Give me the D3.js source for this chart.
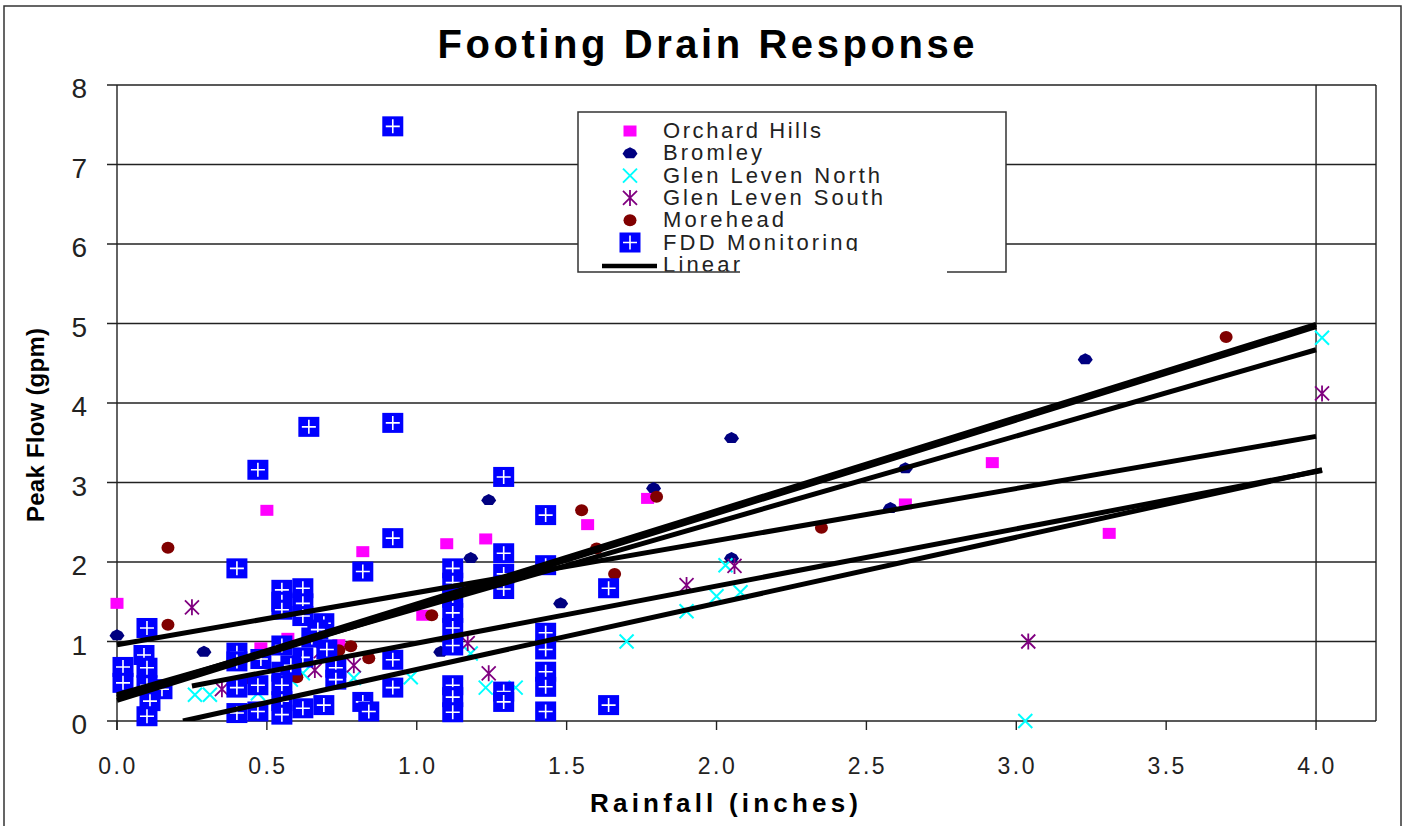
<!DOCTYPE html>
<html>
<head>
<meta charset="utf-8">
<script src="https://cdn.jsdelivr.net/npm/d3@7"></script>
<style>
body { margin: 0; background: #fff; }
svg { display: block; font-family: "Liberation Sans", Arial, sans-serif; }
</style>
</head>
<body>
<script>
// values (rainfall in inches, peak flow in gpm)
var orchardX = [0.00, 0.48, 0.50, 0.57, 0.71, 0.74, 0.82, 1.02, 1.10, 1.23, 1.57, 1.77, 2.63, 2.92, 3.31];
var orchardY = [1.48, 0.92, 2.65, 1.04, 0.89, 0.96, 2.13, 1.33, 2.23, 2.29, 2.47, 2.80, 2.73, 3.25, 2.36];

var bromleyX = [0.00, 0.29, 1.08, 1.18, 1.24, 1.48, 1.79, 2.05, 2.05, 2.58, 2.63, 3.23];
var bromleyY = [1.08, 0.87, 0.87, 2.05, 2.78, 1.48, 2.93, 3.56, 2.05, 2.68, 3.18, 4.55];

var glnX = [0.26, 0.31, 0.47, 0.58, 0.62, 0.79, 0.98, 1.18, 1.23, 1.33, 1.70, 1.90, 2.00, 2.03, 2.08, 3.03, 4.02];
var glnY = [0.33, 0.33, 0.35, 0.52, 0.60, 0.54, 0.55, 0.85, 0.42, 0.42, 1.00, 1.38, 1.57, 1.96, 1.62, 0.00, 4.82];

var glsX = [0.25, 0.35, 0.66, 0.68, 0.72, 0.79, 1.17, 1.24, 1.90, 2.06, 3.04, 4.02];
var glsY = [1.43, 0.40, 0.64, 0.88, 0.86, 0.70, 0.98, 0.60, 1.71, 1.95, 1.00, 4.12];

var moreheadX = [0.17, 0.17, 0.45, 0.60, 0.74, 0.78, 0.84, 1.05, 1.55, 1.60, 1.66, 1.80, 2.35, 3.70];
var moreheadY = [2.18, 1.21, 0.52, 0.55, 0.89, 0.94, 0.79, 1.33, 2.65, 2.17, 1.85, 2.82, 2.43, 4.83];

var fddX = [0.92, 0.64, 0.92, 0.47, 1.29, 1.43, 0.92, 1.29, 0.40, 0.82, 1.12, 1.12, 1.12, 1.12, 1.12, 1.12,
            1.12, 1.12, 1.12, 1.29, 1.29, 1.43, 1.64, 1.43, 1.43, 1.43, 1.43, 1.43, 1.29, 1.29, 1.64, 0.92,
            0.92, 0.82, 0.84, 0.62, 0.62, 0.69, 0.62, 0.73, 0.73, 0.69, 0.62, 0.55, 0.55, 0.55, 0.65, 0.55,
            0.55, 0.55, 0.55, 0.55, 0.10, 0.09, 0.10, 0.10, 0.11, 0.10, 0.02, 0.02, 0.40, 0.40, 0.40, 0.40,
            0.47, 0.47, 0.62, 0.67, 0.58, 0.15, 0.48, 0.70];
var fddY = [7.48, 3.70, 3.75, 3.16, 3.07, 2.59, 2.30, 2.11, 1.92, 1.88, 1.92, 1.74, 1.55, 1.36, 1.17, 0.95,
            0.45, 0.30, 0.11, 1.85, 1.66, 1.96, 1.67, 1.11, 0.90, 0.62, 0.43, 0.12, 0.37, 0.24, 0.20, 0.77,
            0.42, 0.24, 0.12, 1.67, 1.48, 1.23, 0.80, 0.67, 0.52, 0.20, 0.16, 1.65, 1.50, 1.40, 1.05, 0.95,
            0.62, 0.45, 0.25, 0.08, 1.17, 0.83, 0.67, 0.45, 0.25, 0.06, 0.68, 0.48, 0.86, 0.75, 0.42, 0.10,
            0.12, 0.45, 1.32, 1.15, 0.70, 0.40, 0.78, 0.90];

// linear trendlines, end points
var trendNames = ["Orchard Hills", "Bromley", "Glen Leven North", "Glen Leven South", "Morehead", "FDD Monitoring"];
var trendX0 = [0.00, 0.00, 0.22, 0.25, 0.00, 0.00];
var trendY0 = [0.96, 0.33, 0.00, 0.44, 0.30, 0.26];
var trendX1 = [4.00, 4.00, 4.02, 4.02, 4.00, 4.00];
var trendY1 = [3.58, 4.67, 3.16, 3.15, 4.99, 4.96];

var xTicks = [0, 0.5, 1, 1.5, 2, 2.5, 3, 3.5, 4];
var xTickLabels = ["0.0", "0.5", "1.0", "1.5", "2.0", "2.5", "3.0", "3.5", "4.0"];
var yTicks = [0, 1, 2, 3, 4, 5, 6, 7, 8];
var legendNames = ["Orchard Hills", "Bromley", "Glen Leven North", "Glen Leven South", "Morehead", "FDD Monitoring", "Linear"];

var W = 1406, H = 826;
var svg = d3.select("body").append("svg").attr("width", W).attr("height", H);

var x = d3.scaleLinear().domain([0, 4.2]).range([117, 1376]);
var y = d3.scaleLinear().domain([0, 8]).range([721, 85]);

function zip(a, b) { return a.map(function (v, i) { return [v, b[i]]; }); }

// outer frame
svg.append("rect").attr("x", 4).attr("y", 6).attr("width", 1397).attr("height", 840)
  .attr("fill", "none").attr("stroke", "#333").attr("stroke-width", 1.5);

// title
svg.append("text").attr("x", 706).attr("y", 58).attr("text-anchor", "middle")
  .attr("font-size", 40).attr("font-weight", "bold").attr("textLength", 537).attr("lengthAdjust", "spacing")
  .text("Footing Drain Response");

// grid lines + y ticks
svg.append("g").selectAll("line").data(yTicks).enter().append("line")
  .attr("x1", 107).attr("x2", x(4.2))
  .attr("y1", function (d) { return y(d); }).attr("y2", function (d) { return y(d); })
  .attr("stroke", "#222").attr("stroke-width", 1.4);

svg.append("g").selectAll("text").data(yTicks).enter().append("text")
  .attr("x", 87).attr("y", function (d) { return y(d) + 13; })
  .attr("text-anchor", "end").attr("font-size", 28).attr("fill", "#222")
  .text(function (d) { return d; });

// plot frame: left axis, right edge, vertical line at 4.0
svg.append("line").attr("x1", x(0)).attr("x2", x(0)).attr("y1", y(8)).attr("y2", y(0) + 9)
  .attr("stroke", "#222").attr("stroke-width", 1.4);
svg.append("line").attr("x1", x(4.2)).attr("x2", x(4.2)).attr("y1", y(8)).attr("y2", y(0))
  .attr("stroke", "#222").attr("stroke-width", 1.4);
svg.append("line").attr("x1", x(4)).attr("x2", x(4)).attr("y1", y(8)).attr("y2", y(0))
  .attr("stroke", "#222").attr("stroke-width", 1.4);

// x ticks and labels
svg.append("g").selectAll("line").data(xTicks).enter().append("line")
  .attr("x1", function (d) { return x(d); }).attr("x2", function (d) { return x(d); })
  .attr("y1", y(0)).attr("y2", y(0) + 9)
  .attr("stroke", "#222").attr("stroke-width", 1.4);

svg.append("g").selectAll("text").data(xTicks).enter().append("text")
  .attr("x", function (d) { return x(d) + 1; }).attr("y", 774)
  .attr("text-anchor", "middle").attr("font-size", 23).attr("letter-spacing", 2.5).attr("fill", "#222")
  .text(function (d, i) { return xTickLabels[i]; });

// axis titles
svg.append("text").attr("x", 724).attr("y", 812).attr("text-anchor", "middle")
  .attr("font-size", 26).attr("font-weight", "bold").attr("textLength", 268).attr("lengthAdjust", "spacing")
  .text("Rainfall (inches)");

svg.append("text").attr("transform", "translate(44,425) rotate(-90)").attr("text-anchor", "middle")
  .attr("font-size", 24).attr("font-weight", "bold").attr("textLength", 194).attr("lengthAdjust", "spacing")
  .text("Peak Flow (gpm)");

// marker painters
function drawOrchard(g) {
  g.append("rect").attr("x", -6.5).attr("y", -5.5).attr("width", 13).attr("height", 11).attr("fill", "#FF00FF");
}
function drawBromley(g) {
  g.append("path").attr("d", "M0,-6 L5,-3.5 L7.5,0.5 L4,5 L-4,5 L-7.5,0.5 L-5,-3.5 Z").attr("fill", "#000080");
}
function drawGLN(g) {
  g.append("path").attr("d", "M-7,-7 L7,7 M7,-7 L-7,7").attr("stroke", "#00FFFF").attr("stroke-width", 2).attr("fill", "none");
}
function drawGLS(g) {
  g.append("path").attr("d", "M-7,-7 L7,7 M7,-7 L-7,7 M0,-8 L0,8").attr("stroke", "#800080").attr("stroke-width", 1.8).attr("fill", "none");
}
function drawMorehead(g) {
  g.append("ellipse").attr("rx", 6.5).attr("ry", 6).attr("fill", "#800000");
}
function drawFDD(g) {
  g.append("rect").attr("x", -10.5).attr("y", -10).attr("width", 21).attr("height", 20).attr("fill", "#0000FF");
  g.append("path").attr("d", "M-7,0 L7,0 M0,-7 L0,7").attr("stroke", "#fff").attr("stroke-width", 1.6);
}

var series = [
  { xs: orchardX, ys: orchardY, draw: drawOrchard },
  { xs: bromleyX, ys: bromleyY, draw: drawBromley },
  { xs: glnX, ys: glnY, draw: drawGLN },
  { xs: glsX, ys: glsY, draw: drawGLS },
  { xs: moreheadX, ys: moreheadY, draw: drawMorehead },
  { xs: fddX, ys: fddY, draw: drawFDD }
];

series.forEach(function (s) {
  svg.append("g").selectAll("g").data(zip(s.xs, s.ys)).enter().append("g")
    .attr("transform", function (d) { return "translate(" + x(d[0]) + "," + y(d[1]) + ")"; })
    .each(function () { s.draw(d3.select(this)); });
});

// trendlines, clipped to the plot area
svg.append("clipPath").attr("id", "plotclip").append("rect")
  .attr("x", x(0) - 3).attr("y", y(8)).attr("width", x(4.2) - x(0) + 3).attr("height", y(0) - y(8));

svg.append("g").attr("clip-path", "url(#plotclip)").selectAll("line").data(trendNames).enter().append("line")
  .attr("x1", function (d, i) { return x(trendX0[i]); })
  .attr("y1", function (d, i) { return y(trendY0[i]); })
  .attr("x2", function (d, i) { return x(trendX1[i]); })
  .attr("y2", function (d, i) { return y(trendY1[i]); })
  .attr("stroke", "#000").attr("stroke-width", 5);

// legend
var lg = svg.append("g");
lg.append("rect").attr("x", 578).attr("y", 112).attr("width", 428).attr("height", 160).attr("fill", "#fff");
lg.append("path").attr("d", "M740,272 L578,272 L578,112 L1006,112 L1006,272 L947,272")
  .attr("fill", "none").attr("stroke", "#333").attr("stroke-width", 1.5);

var legendLen = [158, 99, 217, 220, 121, 195, 77];
var legendDraw = [drawOrchard, drawBromley, drawGLN, drawGLS, drawMorehead, drawFDD];
var rowY = function (i) { return 138 + i * 22.3; };

lg.append("clipPath").attr("id", "fddclip").append("rect").attr("x", 650).attr("y", 225).attr("width", 300).attr("height", 26);
lg.append("clipPath").attr("id", "linclip").append("rect").attr("x", 650).attr("y", 250).attr("width", 300).attr("height", 21.5);

legendNames.forEach(function (name, i) {
  var t = lg.append("text").attr("x", 663).attr("y", rowY(i))
    .attr("font-size", 22).attr("fill", "#222")
    .attr("textLength", legendLen[i]).attr("lengthAdjust", "spacing").text(name);
  if (i === 5) t.attr("clip-path", "url(#fddclip)");
  if (i === 6) t.attr("clip-path", "url(#linclip)");
  if (i < 6) {
    var g = lg.append("g").attr("transform", "translate(630," + (rowY(i) - 7) + ")");
    legendDraw[i](g);
  }
});
lg.append("line").attr("x1", 602).attr("x2", 657).attr("y1", 266).attr("y2", 266)
  .attr("stroke", "#000").attr("stroke-width", 4.5);
</script>
</body>
</html>
